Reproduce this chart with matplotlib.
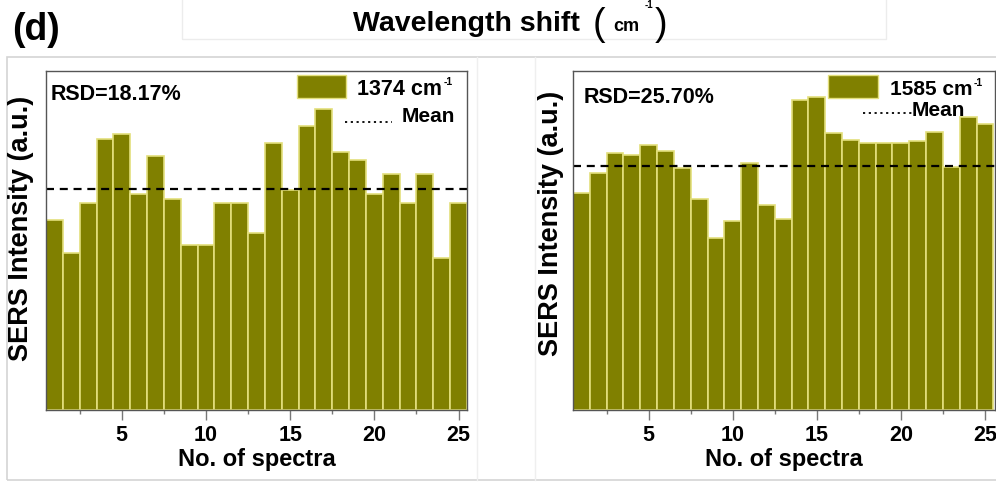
import matplotlib
matplotlib.use("Agg")
import matplotlib.pyplot as plt
import numpy as np
from matplotlib.patches import Rectangle
from matplotlib.lines import Line2D

plt.rcParams['font.family'] = ['Liberation Sans', 'DejaVu Sans']
plt.rcParams['font.weight'] = 'bold'

# spectrum index
spectra = np.arange(1, 26)

# SERS intensity (a.u.) of the 1374 cm-1 band for 25 spectra
intensity_1374 = [570, 472, 623, 813, 828, 650, 763, 635, 495, 495,
                  623, 623, 533, 802, 660, 852, 903, 775, 750, 650,
                  710, 623, 710, 457, 623]
mean_1374 = 665
rsd_1374 = "RSD=18.17%"

# SERS intensity (a.u.) of the 1585 cm-1 band for 25 spectra
intensity_1585 = [652, 713, 773, 766, 796, 778, 727, 635, 517, 570,
                  743, 617, 576, 932, 943, 832, 813, 802, 802, 802,
                  808, 837, 730, 883, 860]
mean_1585 = 735
rsd_1585 = "RSD=25.70%"

band_labels = ["1374 cm", "1585 cm"]
major_ticks = [5, 10, 15, 20, 25]
minor_ticks = [2.5, 7.5, 12.5, 17.5, 22.5]

BAR = '#808000'
EDGE = '#e3df7c'
SPINE = '#555555'

W, H = 996, 482
fig = plt.figure(figsize=(W / 100, H / 100), dpi=100)


def px_axes(x0, x1, ytop, ybot):
    return fig.add_axes([x0 / W, (H - ybot) / H, (x1 - x0) / W, (ybot - ytop) / H])


# light page frames behind the panels
def px_rect(x0, y0, x1, y1, color, lw=1.0):
    fig.add_artist(Rectangle((x0 / W, (H - y1) / H), (x1 - x0) / W, (y1 - y0) / H,
                             transform=fig.transFigure, fill=False,
                             edgecolor=color, linewidth=lw, zorder=0))


px_rect(7, 57, 1000, 480, '#d4d4d4', 1.2)
px_rect(182, -5, 886, 39, '#ececec', 1.0)
for xv in (477, 535):
    fig.add_artist(Line2D([xv / W, xv / W], [(H - 480) / H, (H - 57) / H],
                          transform=fig.transFigure, color='#efefef', lw=1.0, zorder=0))

# heading
fig.text(12 / W, 1 - 40 / H, "(d)", fontsize=27, fontweight='bold', va='baseline', ha='left')
fig.text(588 / W, 1 - 31 / H, "Wavelength shift ", fontsize=20.5, fontweight='bold',
         va='baseline', ha='right')
fig.text(593 / W, 1 - 35 / H, "(", fontsize=27, fontweight='normal', va='baseline', ha='left')
fig.text(613 / W, 1 - 31 / H, "cm", fontsize=13, fontweight='bold', va='baseline', ha='left')
fig.text(645 / W, 1 - 8 / H, "-1", fontsize=7, fontweight='bold', va='baseline', ha='left')
fig.text(655 / W, 1 - 35 / H, ")", fontsize=27, fontweight='normal', va='baseline', ha='left')

panels = [
    dict(x0=46, x1=467, values=intensity_1374, mean=mean_1374, rsd=rsd_1374,
         label=band_labels[0], ylim=1018, xmax=25.5, ylab_x=-0.029, ylab_y=0.535,
         rsd_xy=(0.010, 0.914), band_fs=15.5,
         patch=(0.596, 0.920, 0.1164, 0.0678), text_xy=(0.738, 0.930),
         dot=(0.710, 0.822, 0.850), mean_xy=(0.845, 0.867)),
    dict(x0=573, x1=995, values=intensity_1585, mean=mean_1585, rsd=rsd_1585,
         label=band_labels[1], ylim=1020, xmax=25.6, ylab_x=-0.022, ylab_y=0.55,
         rsd_xy=(0.024, 0.906), band_fs=15,
         patch=(0.604, 0.920, 0.1185, 0.0678), text_xy=(0.750, 0.930),
         dot=(0.687, 0.803, 0.877), mean_xy=(0.803, 0.884)),
]

for p in panels:
    ax = px_axes(p['x0'], p['x1'], 71, 410)
    ax.bar(spectra, p['values'], width=1.0, color=BAR, edgecolor=EDGE,
           linewidth=1.2, zorder=2)
    ax.axhline(p['mean'], color='black', lw=1.6, dashes=(3.6, 2.6), zorder=3)
    ax.set_xlim(0.5, p['xmax'])
    ax.set_ylim(0, p['ylim'])

    ax.set_xticks(major_ticks)
    ax.set_xticks(minor_ticks, minor=True)
    ax.set_yticks([])
    ax.tick_params(axis='x', which='major', direction='out', length=7, width=1,
                   color='#777777', pad=4, labelsize=15.5)
    ax.tick_params(axis='x', which='minor', direction='out', length=3, width=1,
                   color='#777777')
    for t in ax.get_xticklabels():
        t.set_fontweight('bold')
    for s in ax.spines.values():
        s.set_color(SPINE)
        s.set_linewidth(1.0)
        s.set_zorder(4)

    ax.set_xlabel("No. of spectra", fontsize=17, fontweight='bold', labelpad=1)
    ax.set_ylabel("SERS Intensity (a.u.)", fontsize=19.5, fontweight='bold')
    ax.yaxis.set_label_coords(p['ylab_x'], p['ylab_y'])

    ax.text(p['rsd_xy'][0], p['rsd_xy'][1], p['rsd'], transform=ax.transAxes,
            fontsize=15.5, fontweight='bold', va='baseline', ha='left', zorder=5)

    # legend: band patch and mean line
    px, py, pw, ph = p['patch']
    ax.add_patch(Rectangle((px, py), pw, ph, transform=ax.transAxes,
                           facecolor=BAR, edgecolor=EDGE, linewidth=1.0, zorder=5,
                           clip_on=False))
    band = ax.text(p['text_xy'][0], p['text_xy'][1], p['label'], transform=ax.transAxes,
                   fontsize=p['band_fs'], fontweight='bold', va='baseline', ha='left',
                   zorder=5)
    ax.annotate("-1", xy=(1, 1), xycoords=band, xytext=(1.5, 1), textcoords='offset points',
                fontsize=7.5, fontweight='bold', va='top', ha='left', zorder=5)
    dx0, dx1, dy = p['dot']
    ax.plot([dx0, dx1], [dy, dy], transform=ax.transAxes, color='black', lw=1.3,
            linestyle=(0, (1.2, 2.0)), zorder=5)
    ax.text(p['mean_xy'][0], p['mean_xy'][1], "Mean", transform=ax.transAxes,
            fontsize=15, fontweight='bold', va='center', ha='left', zorder=5)

fig.savefig("out.png", dpi=100)
